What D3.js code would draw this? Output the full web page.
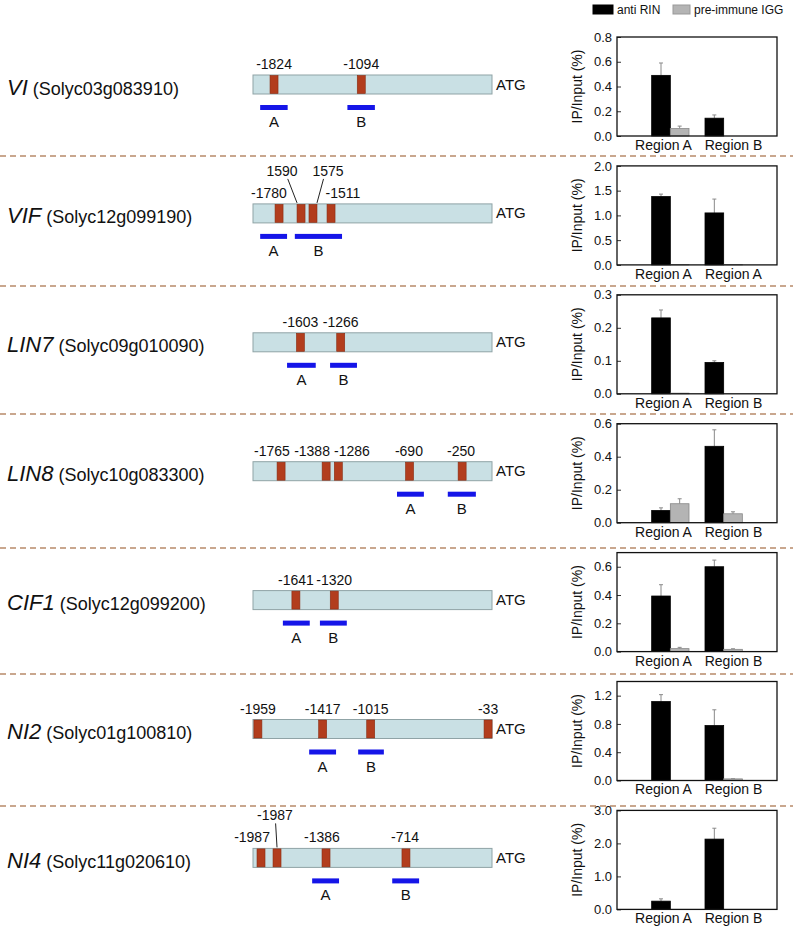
<!DOCTYPE html>
<html>
<head>
<meta charset="utf-8">
<script src="https://cdn.jsdelivr.net/npm/d3@7"></script>
<style>
  body { margin: 0; background: #fff; }
  svg text { font-family: "Liberation Sans", Arial, sans-serif; }
</style>
</head>
<body>
<div id="chart"></div>
<script>

// genes, one per row
var genes = ["VI", "VIF", "LIN7", "LIN8", "CIF1", "NI2", "NI4"];
var geneIds = ["Solyc03g083910", "Solyc12g099190", "Solyc09g010090", "Solyc10g083300",
               "Solyc12g099200", "Solyc01g100810", "Solyc11g020610"];

// CArG sites: position drawn on the promoter (bp upstream of ATG) and their labels
var sitePos = [
  [-1824, -1094],
  [-1782, -1598, -1498, -1347],
  [-1603, -1266],
  [-1765, -1388, -1286, -690, -250],
  [-1641, -1320],
  [-1959, -1417, -1015, -33],
  [-1933, -1799, -1389, -720]
];
var siteLabels = [
  ["-1824", "-1094"],
  ["-1780", "1590", "1575", "-1511"],
  ["-1603", "-1266"],
  ["-1765", "-1388", "-1286", "-690", "-250"],
  ["-1641", "-1320"],
  ["-1959", "-1417", "-1015", "-33"],
  ["-1987", "-1987", "-1386", "-714"]
];
var labelPos = [
  [-1824, -1094],
  [-1866, -1757, -1372, -1247],
  [-1603, -1266],
  [-1841, -1506, -1172, -695, -259],
  [-1641, -1320],
  [-1959, -1417, -1015, -33],
  [-2008, -1816, -1423, -728]
];
// 1 = label raised with a leader line
var labelRaised = [
  [0, 0],
  [0, 1, 1, 0],
  [0, 0],
  [0, 0, 0, 0, 0],
  [0, 0],
  [0, 0, 0, 0],
  [0, 1, 0, 0]
];

// amplified regions A and B (bp)
var regionA = [[-1940, -1710], [-1940, -1715], [-1715, -1475], [-795, -570],
               [-1750, -1525], [-1530, -1305], [-1505, -1280]];
var regionB = [[-1210, -980], [-1650, -1255], [-1355, -1130], [-370, -135],
               [-1440, -1215], [-1120, -905], [-835, -610]];

// ChIP-qPCR
var antiRIN    = [[0.49, 0.144], [1.38, 1.05], [0.23, 0.095], [0.074, 0.463], [0.393, 0.60], [1.116, 0.777], [0.25, 2.13]];
var antiRINerr = [[0.10, 0.026], [0.05, 0.28], [0.024, 0.005], [0.016, 0.10], [0.08, 0.047], [0.098, 0.223], [0.07, 0.33]];
var igg        = [[0.06, 0.0], [0.005, 0.005], [0.002, 0.0], [0.115, 0.054], [0.021, 0.016], [0.0, 0.023], [0.0, 0.0]];
var iggErr     = [[0.02, 0.0], [0.0, 0.0], [0.0, 0.0], [0.03, 0.012], [0.009, 0.004], [0.0, 0.002], [0.0, 0.0]];

var yMax = [0.8, 2.0, 0.3, 0.6, 0.7, 1.4, 3.0];
var yTicks = [
  [0, 0.2, 0.4, 0.6, 0.8],
  [0, 0.5, 1.0, 1.5, 2.0],
  [0, 0.1, 0.2, 0.3],
  [0, 0.2, 0.4, 0.6],
  [0, 0.2, 0.4, 0.6],
  [0, 0.4, 0.8, 1.2],
  [0, 1.0, 2.0, 3.0]
];
var xLabels = [
  ["Region A", "Region B"], ["Region A", "Region A"], ["Region A", "Region B"],
  ["Region A", "Region B"], ["Region A", "Region B"], ["Region A", "Region B"],
  ["Region A", "Region B"]
];
var seriesNames = ["anti RIN", "pre-immune IGG"];
var seriesColors = ["#000000", "#b4b4b4"];

var W = 793, H = 932;
var rowStep = 128.9, firstTop = 37, plotH = 99;
var plotLeft = 617, plotW = 160;
var sepY = [156, 286, 414, 548, 674, 806];

var svg = d3.select("#chart").append("svg")
    .attr("width", W)
    .attr("height", H);

// promoter scale: ATG at right end
var bp = d3.scaleLinear().domain([-2000, 0]).range([253, 492]);

// dashed separators between rows
svg.selectAll(".sep")
    .data(sepY)
    .enter().append("line")
    .attr("class", "sep")
    .attr("x1", 0).attr("x2", W)
    .attr("y1", function(d) { return d; })
    .attr("y2", function(d) { return d; })
    .attr("stroke", "#b88a6a")
    .attr("stroke-width", 1.6)
    .attr("stroke-dasharray", "6,4");

// legend
var legend = svg.append("g").attr("transform", "translate(593,5)");
seriesNames.forEach(function(name, k) {
  var lx = k == 0 ? 0 : 80;
  legend.append("rect")
      .attr("x", lx).attr("y", 0)
      .attr("width", k == 0 ? 20 : 17).attr("height", 9)
      .attr("fill", seriesColors[k])
      .attr("stroke", k == 0 ? "#000" : "#999");
  legend.append("text")
      .attr("x", lx + (k == 0 ? 24 : 21)).attr("y", 9)
      .attr("font-size", "12px")
      .attr("fill", "#111")
      .text(name);
});

genes.forEach(function(gene, i) {

  var top = firstTop + i * rowStep;
  var mid = top + plotH / 2;

  // gene name
  var name = svg.append("text")
      .attr("x", 7)
      .attr("y", mid + 8)
      .attr("fill", "#111");
  name.append("tspan")
      .attr("font-size", "22px")
      .attr("font-style", "italic")
      .text(gene);
  name.append("tspan")
      .attr("font-size", "18px")
      .text(" (" + geneIds[i] + ")");

  // promoter diagram
  var rectTop = top + 38, rectH = 19;

  svg.append("rect")
      .attr("x", bp(-2000)).attr("y", rectTop)
      .attr("width", bp(0) - bp(-2000)).attr("height", rectH)
      .attr("fill", "#c9e0e4")
      .attr("stroke", "#8fa3a6");

  svg.append("text")
      .attr("x", bp(0) + 4).attr("y", rectTop + rectH / 2 + 5)
      .attr("font-size", "15px")
      .attr("fill", "#111")
      .text("ATG");

  svg.selectAll(null)
      .data(sitePos[i])
      .enter().append("rect")
      .attr("x", function(d) { return bp(d) - 4; })
      .attr("y", rectTop + 0.5)
      .attr("width", 8)
      .attr("height", rectH - 1)
      .attr("fill", "#b23d1d")
      .attr("stroke", "#8a2c12")
      .attr("stroke-width", 0.6);

  siteLabels[i].forEach(function(lab, k) {
    var lx = bp(labelPos[i][k]);
    var raised = labelRaised[i][k] == 1;
    var ly = raised ? rectTop - 28 : rectTop - 6;
    svg.append("text")
        .attr("x", lx).attr("y", ly)
        .attr("text-anchor", "middle")
        .attr("font-size", "14px")
        .attr("fill", "#111")
        .text(lab);
    if (raised) {
      var mx = bp(sitePos[i][k]);
      var diff = mx - lx;
      svg.append("line")
          .attr("x1", lx + diff * 0.3).attr("y1", ly + 3)
          .attr("x2", Math.abs(diff) > 5 ? mx - 4 * Math.sign(diff) : mx)
          .attr("y2", rectTop - 1)
          .attr("stroke", "#222")
          .attr("stroke-width", 1);
    }
  });

  [regionA[i], regionB[i]].forEach(function(r, k) {
    svg.append("rect")
        .attr("x", bp(r[0])).attr("y", rectTop + 30)
        .attr("width", bp(r[1]) - bp(r[0])).attr("height", 5)
        .attr("fill", "#1515e8");
    svg.append("text")
        .attr("x", (bp(r[0]) + bp(r[1])) / 2).attr("y", rectTop + 52)
        .attr("text-anchor", "middle")
        .attr("font-size", "15px")
        .attr("fill", "#111")
        .text(k == 0 ? "A" : "B");
  });

  // ChIP bar chart
  var g = svg.append("g")
      .attr("transform", "translate(" + plotLeft + "," + top + ")");

  var y = d3.scaleLinear().domain([0, yMax[i]]).range([plotH, 0]);
  var x = d3.scaleLinear().domain([0, 3]).range([0, plotW]);
  var xl = d3.scalePoint().domain([0, 1]).range([46, 116]);
  var barW = x(0.35) - x(0);

  var bars = [];
  [0, 1].forEach(function(r) {
    bars.push({ cx: x(r + 1) - barW, v: antiRIN[i][r], e: antiRINerr[i][r], s: 0 });
    bars.push({ cx: x(r + 1), v: igg[i][r], e: iggErr[i][r], s: 1 });
  });

  // error whiskers (upper only)
  bars.forEach(function(b) {
    if (b.e <= 0) return;
    var ex = b.cx + barW / 2;
    g.append("line")
        .attr("x1", ex).attr("x2", ex)
        .attr("y1", y(b.v)).attr("y2", y(b.v + b.e))
        .attr("stroke", "#8a8a8a").attr("stroke-width", 1);
    g.append("line")
        .attr("x1", ex - 2).attr("x2", ex + 2)
        .attr("y1", y(b.v + b.e)).attr("y2", y(b.v + b.e))
        .attr("stroke", "#8a8a8a").attr("stroke-width", 1);
  });

  g.selectAll(".bar")
      .data(bars.filter(function(b) { return b.v > 0; }))
      .enter().append("rect")
      .attr("class", "bar")
      .attr("x", function(d) { return d.cx; })
      .attr("width", barW)
      .attr("y", function(d) { return y(d.v); })
      .attr("height", function(d) { return plotH - y(d.v); })
      .attr("fill", function(d) { return seriesColors[d.s]; })
      .attr("stroke", function(d) { return d.s == 0 ? "#000" : "#888"; })
      .attr("stroke-width", 0.8);

  var yAxis = g.append("g")
      .call(d3.axisLeft(y).tickValues(yTicks[i]).tickSize(-4).tickPadding(5)
              .tickFormat(d3.format(".1f")));
  yAxis.select(".domain").remove();
  yAxis.selectAll("text").attr("font-size", "13px").attr("fill", "#111")
      .style("font-family", "'Liberation Sans', Arial, sans-serif");
  yAxis.selectAll("line").attr("stroke", "#333");

  var xAxis = g.append("g")
      .attr("transform", "translate(0," + plotH + ")")
      .call(d3.axisBottom(xl).tickSize(0).tickPadding(4)
              .tickFormat(function(d) { return xLabels[i][d]; }));
  xAxis.select(".domain").remove();
  xAxis.selectAll("text").attr("font-size", "14px").attr("fill", "#111")
      .style("font-family", "'Liberation Sans', Arial, sans-serif");

  g.append("rect")
      .attr("x", 0).attr("y", 0)
      .attr("width", plotW).attr("height", plotH)
      .attr("fill", "none")
      .attr("stroke", "#111")
      .attr("stroke-width", 1.3);

  g.append("text")
      .attr("transform", "translate(-35," + (plotH / 2) + ") rotate(-90)")
      .attr("text-anchor", "middle")
      .attr("font-size", "14px")
      .attr("fill", "#111")
      .text("IP/Input (%)");
});

</script>
</body>
</html>
